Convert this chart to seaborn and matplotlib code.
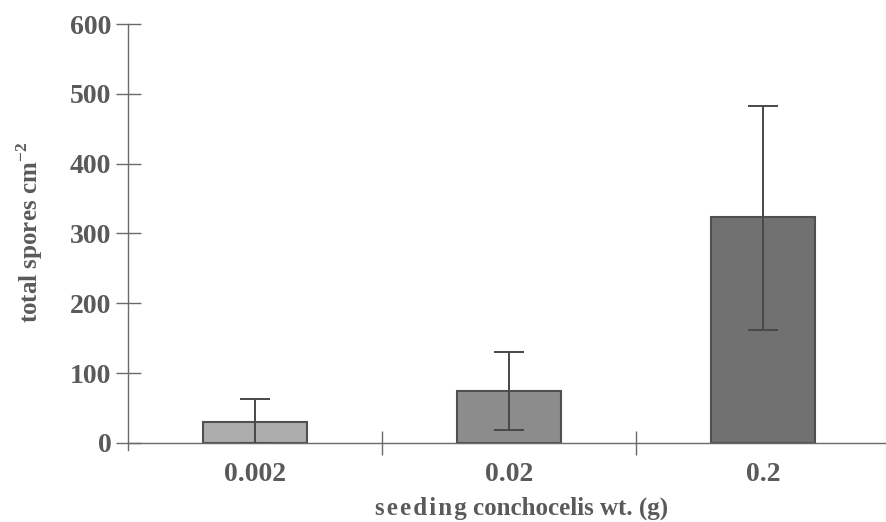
import matplotlib
matplotlib.use("Agg")
import matplotlib.pyplot as plt
import seaborn as sns
import pandas as pd

# --- Data ---
weights = ["0.002", "0.02", "0.2"]
spores = [30, 74, 323]
err_low = [30, 56, 161]
err_high = [33, 57, 160]
bar_colors = ["#adadad", "#8c8c8c", "#717171"]

df = pd.DataFrame({"weight": weights, "spores": spores})

sns.set_style("white")
plt.rcParams["font.family"] = ["Liberation Serif", "DejaVu Serif"]
plt.rcParams["font.weight"] = "bold"
plt.rcParams["mathtext.fontset"] = "custom"
plt.rcParams["mathtext.bf"] = "Liberation Serif:bold"
plt.rcParams["mathtext.rm"] = "Liberation Serif:bold"
text_col = "#5a5a5a"
line_col = "#6a6a6a"

fig = plt.figure(figsize=(8.86, 5.22), dpi=100)
ax = fig.add_axes([128 / 886, 0.138, 762 / 886, 0.816])

sns.barplot(data=df, x="weight", y="spores", hue="weight", palette=bar_colors,
            legend=False, width=0.41, errorbar=None, edgecolor="#505050",
            linewidth=1.5, ax=ax)
ax.errorbar(range(len(weights)), spores, yerr=[err_low, err_high], fmt="none",
            ecolor="#484848", elinewidth=1.4, capsize=11, capthick=1.4)

ax.set_xlim(-0.5, 2.5)
ax.set_ylim(-10, 600)
ax.set_yticks([0, 100, 200, 300, 400, 500, 600])
ax.set_xticks([0.5, 1.5], minor=True)

for s in ["top", "right"]:
    ax.spines[s].set_visible(False)
ax.spines["bottom"].set_position(("data", 0))
ax.spines["left"].set_color(line_col)
ax.spines["bottom"].set_color(line_col)
ax.spines["left"].set_linewidth(1.0)
ax.spines["bottom"].set_linewidth(1.0)

ax.tick_params(axis="y", left=True, direction="inout", length=18, width=1.0,
               color=line_col, labelsize=20, labelcolor=text_col, pad=3)
ax.tick_params(axis="x", which="major", bottom=False, length=0, labelsize=20,
               labelcolor=text_col, pad=14)
ax.tick_params(axis="x", which="minor", bottom=True, direction="inout",
               length=17, width=1.0, color=line_col)
for lab in ax.get_xticklabels() + ax.get_yticklabels():
    lab.set_fontweight("bold")

ax.set_xlabel("s\u200ae\u200ae\u200ad\u200ai\u200an\u200ag conchocelis wt. (g)",
              fontsize=18, fontweight="bold", color=text_col)
ax.xaxis.set_label_coords(0.517, -0.11)
ax.set_ylabel("total spores cm$^{-2}$", fontsize=18, fontweight="bold",
              color=text_col)
ax.yaxis.set_label_coords(-0.109, 0.51)

fig.savefig("out.png", dpi=100)
